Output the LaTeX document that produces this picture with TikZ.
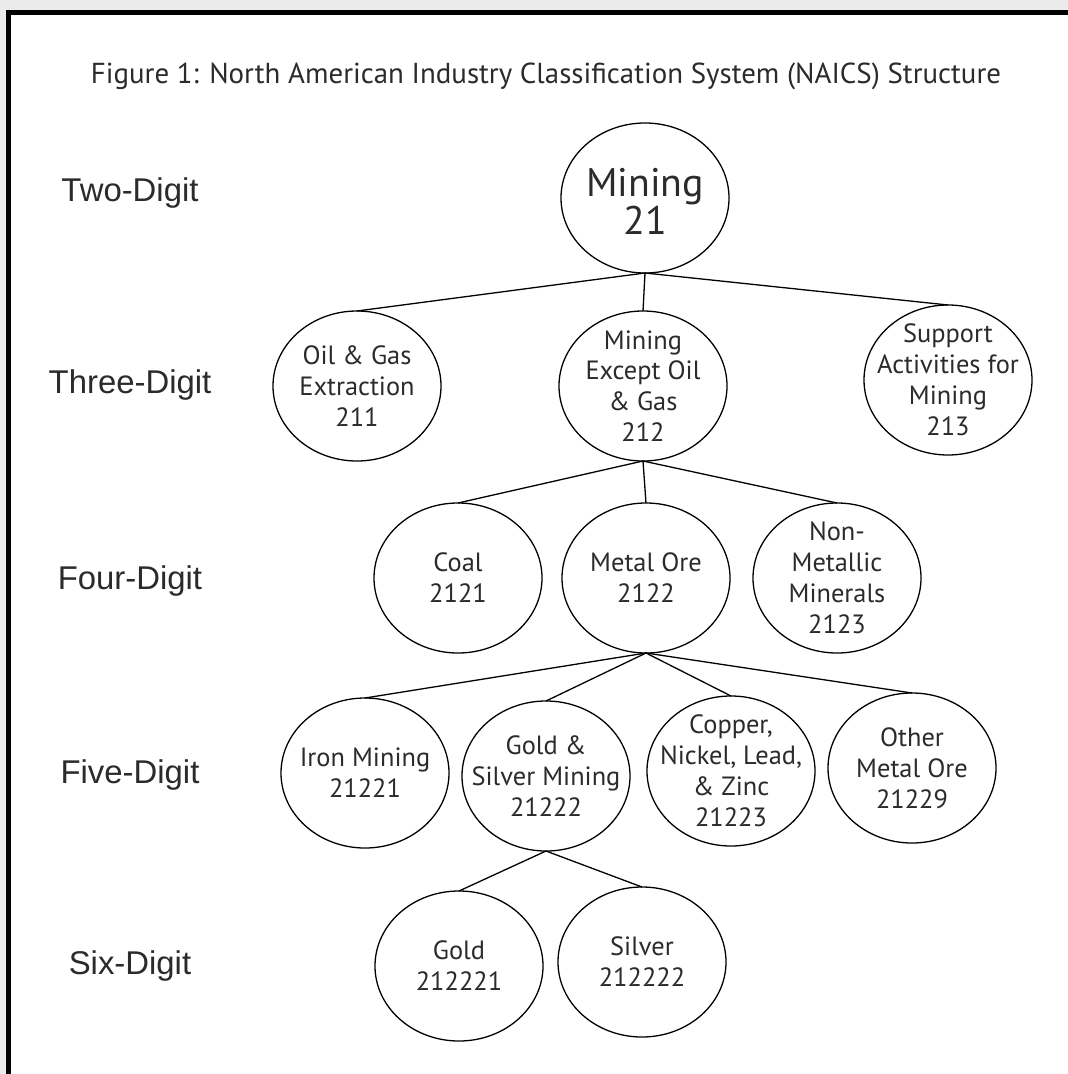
\documentclass[tikz,border=0pt]{standalone}
\usepackage{fontspec}
\setmainfont{PT Sans}
\newfontfamily\labfont{Liberation Sans}
\usetikzlibrary{shapes.geometric}
\definecolor{txt}{HTML}{2B2B2B}
\definecolor{bggray}{HTML}{EBEBEB}
\begin{document}
\begin{tikzpicture}[x=1bp,y=-1bp,
  nd/.style={ellipse, draw=black, line width=1.3bp, minimum width=168bp, minimum height=150bp, inner sep=0pt, outer sep=0pt},
  ntext/.style={align=center, text=txt, inner sep=0pt, font=\fontsize{26.5}{31}\selectfont},
  bigtext/.style={align=center, text=txt, inner sep=0pt, font=\fontsize{40}{38}\selectfont},
  lab/.style={anchor=base, text=txt, inner sep=0pt, font=\labfont\fontsize{33}{36}\selectfont},
  conn/.style={line width=1.3bp, draw=black}]
\useasboundingbox (0,0) rectangle (1068,1074);
\fill[bggray] (0,0) rectangle (1068,1074);
\begin{scope}
  \clip (0,0) rectangle (1068,1074);
  \draw[line width=5bp, fill=white] (8.5,12.5) rectangle (1100,1100);
\end{scope}
% title
\node[anchor=base, text=txt, inner sep=0pt, font=\fontsize{29}{32}\selectfont] (title) at (546,83) {Figure 1: North American Industry Classification System (NAICS) Structure};
% level labels
\node[lab] (l2) at (130,201) {Two-Digit};
\node[lab] (l3) at (130,393) {Three-Digit};
\node[lab] (l4) at (130,589) {Four-Digit};
\node[lab] (l5) at (130,783) {Five-Digit};
\node[lab] (l6) at (130,974) {Six-Digit};
% ellipses
\node[nd] (n21) at (645,198) {};
\node[nd] (n211) at (357,386) {};
\node[nd] (n212) at (643,386) {};
\node[nd] (n213) at (948,380) {};
\node[nd] (n2121) at (458,578) {};
\node[nd] (n2122) at (646,578) {};
\node[nd] (n2123) at (837,578) {};
\node[nd] (n21221) at (365,773) {};
\node[nd] (n21222) at (546,776) {};
\node[nd] (n21223) at (731,771) {};
\node[nd] (n21229) at (912,768) {};
\node[nd] (n212221) at (459,966) {};
\node[nd] (n212222) at (642,962) {};
% texts
\node[bigtext] (t21) at ([yshift=-3bp]n21.center) {Mining\\21};
\node[ntext] (t211) at (n211) {Oil \& Gas\\Extraction\\211};
\node[ntext] (t212) at (n212) {Mining\\Except Oil\\\& Gas\\212};
\node[ntext] (t213) at (n213) {Support\\Activities for\\Mining\\213};
\node[ntext] (t2121) at (n2121) {Coal\\2121};
\node[ntext] (t2122) at (n2122) {Metal Ore\\2122};
\node[ntext] (t2123) at (n2123) {Non-\\Metallic\\Minerals\\2123};
\node[ntext] (t21221) at (n21221) {Iron Mining\\21221};
\node[ntext] (t21222) at (n21222) {Gold \&\\Silver Mining\\21222};
\node[ntext] (t21223) at (n21223) {Copper,\\Nickel, Lead,\\\& Zinc\\21223};
\node[ntext] (t21229) at (n21229) {Other\\Metal Ore\\21229};
\node[ntext] (t212221) at (n212221) {Gold\\212221};
\node[ntext] (t212222) at (n212222) {Silver\\212222};
% connectors
\draw[conn] (n21.south) -- (n211.north);
\draw[conn] (n21.south) -- (n212.north);
\draw[conn] (n21.south) -- (n213.north);
\draw[conn] (n212.south) -- (n2121.north);
\draw[conn] (n212.south) -- (n2122.north);
\draw[conn] (n212.south) -- (n2123.north);
\draw[conn] (n2122.south) -- (n21221.north);
\draw[conn] (n2122.south) -- (n21222.north);
\draw[conn] (n2122.south) -- (n21223.north);
\draw[conn] (n2122.south) -- (n21229.north);
\draw[conn] (n21222.south) -- (n212221.north);
\draw[conn] (n21222.south) -- (n212222.north);
\end{tikzpicture}
\end{document}
